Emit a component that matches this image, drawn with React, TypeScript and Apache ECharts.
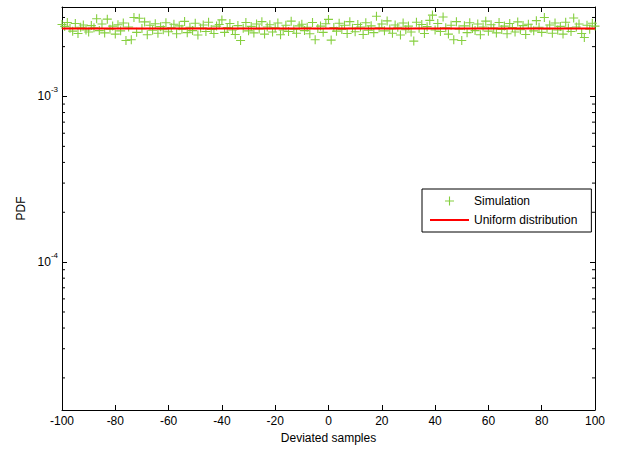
import React, { useEffect, useRef } from 'react';
import * as echarts from 'echarts';

// x positions of the simulated PDF start at -100 and step by 1 sample
const X_START = -100;

// Simulated PDF values, x = -100 ... 100
const simulationPdf = [
  2.72e-3, 2.65e-3, 2.80e-3, 2.58e-3, 2.48e-3, 2.76e-3, 2.40e-3, 2.62e-3, 2.70e-3, 2.52e-3,
  2.45e-3, 2.68e-3, 2.60e-3, 2.95e-3, 2.50e-3, 2.74e-3, 2.42e-3, 2.93e-3, 2.55e-3, 2.66e-3,
  2.38e-3, 2.71e-3, 2.49e-3, 2.78e-3, 2.18e-3, 2.63e-3, 2.20e-3, 3.00e-3, 2.44e-3, 2.97e-3,
  2.57e-3, 2.82e-3, 2.36e-3, 2.69e-3, 2.51e-3, 2.75e-3, 2.41e-3, 2.64e-3, 2.53e-3, 2.79e-3,
  2.46e-3, 2.60e-3, 2.73e-3, 2.39e-3, 2.67e-3, 2.55e-3, 2.84e-3, 2.43e-3, 2.62e-3, 2.50e-3,
  2.77e-3, 2.35e-3, 2.59e-3, 2.70e-3, 2.47e-3, 2.81e-3, 2.54e-3, 2.40e-3, 2.66e-3, 2.72e-3,
  2.90e-3, 2.44e-3, 2.61e-3, 2.76e-3, 2.52e-3, 2.37e-3, 2.68e-3, 2.18e-3, 2.58e-3, 2.80e-3,
  2.49e-3, 2.65e-3, 2.42e-3, 2.74e-3, 2.56e-3, 2.83e-3, 2.38e-3, 2.63e-3, 2.71e-3, 2.45e-3,
  2.60e-3, 2.78e-3, 2.36e-3, 2.52e-3, 2.69e-3, 2.47e-3, 2.85e-3, 2.55e-3, 2.41e-3, 2.67e-3,
  2.73e-3, 2.50e-3, 2.62e-3, 2.39e-3, 2.80e-3, 2.20e-3, 2.57e-3, 2.66e-3, 2.44e-3, 2.75e-3,
  2.92e-3, 2.19e-3, 2.61e-3, 2.48e-3, 2.77e-3, 2.54e-3, 2.69e-3, 2.40e-3, 2.83e-3, 2.58e-3,
  2.46e-3, 2.72e-3, 2.63e-3, 2.37e-3, 2.79e-3, 2.51e-3, 2.67e-3, 2.43e-3, 3.05e-3, 2.60e-3,
  2.74e-3, 2.49e-3, 2.86e-3, 2.56e-3, 2.41e-3, 2.70e-3, 2.62e-3, 2.35e-3, 2.78e-3, 2.53e-3,
  2.66e-3, 2.45e-3, 2.16e-3, 2.81e-3, 2.58e-3, 2.72e-3, 2.40e-3, 2.64e-3, 2.88e-3, 3.10e-3,
  2.52e-3, 2.76e-3, 2.47e-3, 3.02e-3, 2.60e-3, 2.38e-3, 2.69e-3, 2.20e-3, 2.83e-3, 2.55e-3,
  2.18e-3, 2.67e-3, 2.43e-3, 2.79e-3, 2.57e-3, 2.50e-3, 2.74e-3, 2.36e-3, 2.63e-3, 2.85e-3,
  2.48e-3, 2.71e-3, 2.59e-3, 2.42e-3, 2.80e-3, 2.54e-3, 2.66e-3, 2.39e-3, 2.76e-3, 2.61e-3,
  2.45e-3, 2.82e-3, 2.53e-3, 2.68e-3, 2.37e-3, 2.73e-3, 2.58e-3, 2.49e-3, 2.87e-3, 2.62e-3,
  2.44e-3, 3.00e-3, 2.56e-3, 2.70e-3, 2.41e-3, 2.78e-3, 2.52e-3, 2.65e-3, 2.38e-3, 2.81e-3,
  2.59e-3, 2.47e-3, 2.98e-3, 2.63e-3, 2.74e-3, 2.40e-3, 2.27e-3, 2.69e-3, 2.55e-3, 2.77e-3,
  2.66e-3,
];

// Theoretical uniform distribution level
const uniformPdf = 2.57e-3;
const uniformX = [-100, 100];

// Axis ranges and ticks
const xRange = [-100, 100];
const xInterval = 20;
const yRange = [1.28e-5, 3.47e-3];
const yMinorTicks = [
  2e-5, 3e-5, 4e-5, 5e-5, 6e-5, 7e-5, 8e-5, 9e-5,
  2e-4, 3e-4, 4e-4, 5e-4, 6e-4, 7e-4, 8e-4, 9e-4,
  2e-3, 3e-3,
];

const FONT = '"Liberation Sans", Arial, Helvetica, sans-serif';
const CROSS = 'path://M3.95,0H5.05V3.95H9V5.05H5.05V9H3.95V5.05H0V3.95H3.95Z';
const LINE_ICON = 'path://M0,0H39V2H0Z';
const GREEN = '#86cf40';
const RED = '#ff0000';

export default function App() {
  const ref = useRef<HTMLDivElement>(null);

  useEffect(() => {
    if (!ref.current) return;
    const chart = echarts.init(ref.current, null, { renderer: 'svg' });

    const axisLine = { show: true, onZero: false, lineStyle: { color: '#000', width: 1 } };
    const tick = { show: true, inside: true, length: 5, lineStyle: { color: '#000', width: 1 } };

    const yLabelFormatter = (v: number) => {
      const e = Math.log10(v);
      const r = Math.round(e);
      if (Math.abs(e - r) > 1e-6) return '';
      return `{b|10}{s|${r}}`;
    };

    const option: any = {
      animation: false,
      backgroundColor: '#fff',
      grid: { left: 62, right: 25, top: 7, bottom: 42 },
      legend: {
        left: 422,
        top: 189,
        orient: 'vertical',
        data: [
          { name: 'Simulation', icon: CROSS, itemStyle: { color: GREEN } },
          { name: 'Uniform distribution', icon: LINE_ICON, itemStyle: { color: RED } },
        ],
        itemWidth: 39,
        itemHeight: 9,
        itemGap: 5,
        padding: [5, 14, 5, 8],
        borderColor: '#000',
        borderWidth: 1,
        borderRadius: 0,
        backgroundColor: '#fff',
        selectedMode: false,
        textStyle: { color: '#000', fontSize: 12, fontFamily: FONT, lineHeight: 14 },
      },
      xAxis: [
        {
          type: 'value',
          position: 'bottom',
          min: xRange[0],
          max: xRange[1],
          interval: xInterval,
          axisLine,
          axisTick: tick,
          axisLabel: { color: '#000', fontSize: 12, fontFamily: FONT, margin: 5 },
          splitLine: { show: false },
          name: 'Deviated samples',
          nameLocation: 'middle',
          nameGap: 20,
          nameTextStyle: { color: '#000', fontSize: 12, fontFamily: FONT },
        },
        {
          type: 'value',
          position: 'top',
          min: xRange[0],
          max: xRange[1],
          interval: xInterval,
          axisLine,
          axisTick: tick,
          axisLabel: { show: false },
          splitLine: { show: false },
        },
      ],
      yAxis: [
        {
          type: 'log',
          logBase: 10,
          position: 'left',
          min: yRange[0],
          max: yRange[1],
          axisLine,
          axisTick: tick,
          axisLabel: {
            color: '#000',
            fontFamily: FONT,
            margin: 4,
            formatter: yLabelFormatter,
            rich: {
              b: { fontSize: 12, lineHeight: 22, fontFamily: FONT, color: '#000' },
              s: { fontSize: 8, lineHeight: 8, verticalAlign: 'top', fontFamily: FONT, color: '#000' },
            },
          },
          splitLine: { show: false },
          minorTick: { show: false },
          name: 'PDF',
          nameLocation: 'middle',
          nameGap: 34,
          nameRotate: 90,
          nameTextStyle: { color: '#000', fontSize: 12, fontFamily: FONT },
        },
        {
          type: 'log',
          logBase: 10,
          position: 'right',
          min: yRange[0],
          max: yRange[1],
          axisLine,
          axisTick: tick,
          axisLabel: { show: false },
          splitLine: { show: false },
        },
      ],
      series: [
        {
          name: 'Simulation',
          type: 'scatter',
          xAxisIndex: 0,
          yAxisIndex: 0,
          data: simulationPdf.map((v, i) => [X_START + i, v]),
          symbol: CROSS,
          symbolSize: 9,
          itemStyle: { color: GREEN, opacity: 1 },
          z: 2,
          silent: true,
        },
        {
          name: 'Uniform distribution',
          type: 'line',
          xAxisIndex: 0,
          yAxisIndex: 0,
          data: uniformX.map((x) => [x, uniformPdf]),
          symbol: 'none',
          showSymbol: false,
          lineStyle: { color: RED, width: 2 },
          itemStyle: { color: RED },
          z: 3,
          silent: true,
        },
        {
          name: 'minorTicks',
          type: 'custom',
          xAxisIndex: 0,
          yAxisIndex: 0,
          silent: true,
          z: 4,
          data: yMinorTicks.map((v) => [xRange[0], v]),
          encode: { x: 0, y: 1 },
          renderItem: (params: any, api: any) => {
            const v = api.value(1);
            const l = api.coord([xRange[0], v]);
            const r = api.coord([xRange[1], v]);
            return {
              type: 'group',
              children: [
                {
                  type: 'line',
                  shape: { x1: l[0], y1: l[1], x2: l[0] + 3, y2: l[1] },
                  style: { stroke: '#000', lineWidth: 1 },
                },
                {
                  type: 'line',
                  shape: { x1: r[0] - 3, y1: r[1], x2: r[0], y2: r[1] },
                  style: { stroke: '#000', lineWidth: 1 },
                },
              ],
            };
          },
        },
      ],
    };

    chart.setOption(option);
    return () => chart.dispose();
  }, []);

  return (
    <div
      ref={ref}
      style={{ position: 'fixed', left: 0, top: 0, width: 620, height: 452 }}
    />
  );
}
